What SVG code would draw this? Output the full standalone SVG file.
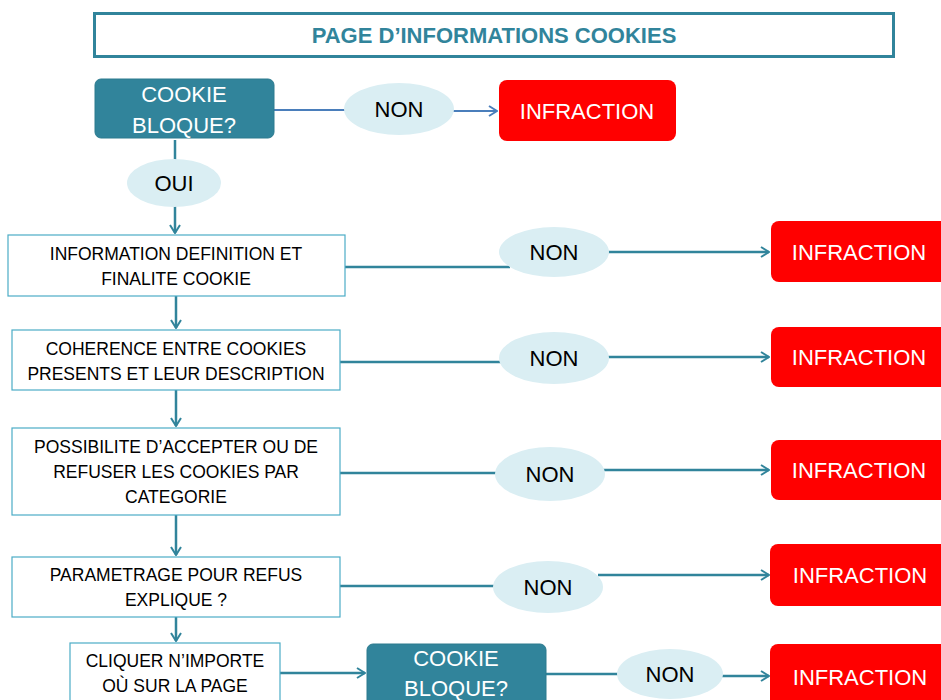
<svg xmlns="http://www.w3.org/2000/svg" width="941" height="700" viewBox="0 0 941 700">
<style>
text{font-family:"Liberation Sans",Arial,sans-serif;text-anchor:middle}
.t{fill:#31849B;font-weight:bold;font-size:22px}
.w{fill:#fff;font-size:22px}
.b{fill:#000;font-size:22px}
.s{fill:#000;font-size:17.5px}
.teal{fill:#31849B;stroke:#2C7A8E;stroke-width:1}
.red{fill:#FF0000}
.ell{fill:#DAEEF3}
.box{fill:#fff;stroke:#4BACC6;stroke-width:1.2}
.c{fill:none;stroke:#31849B;stroke-width:2.5}
.cb{fill:none;stroke:#4A7EBB;stroke-width:2}
</style>
<defs>
<marker id="ar" viewBox="0 0 12 12" refX="11" refY="6" markerWidth="12" markerHeight="12" markerUnits="userSpaceOnUse" orient="auto">
<polyline points="3,1 11,6 3,11" fill="none" stroke="#31849B" stroke-width="2"/>
</marker>
<marker id="arb" viewBox="0 0 12 12" refX="11" refY="6" markerWidth="12" markerHeight="12" markerUnits="userSpaceOnUse" orient="auto">
<polyline points="3,1 11,6 3,11" fill="none" stroke="#4A7EBB" stroke-width="2"/>
</marker>
</defs>
<rect width="941" height="700" fill="#fff"/>
<g id="connectors">
<path class="cb" d="M240,110 H350"/>
<path class="cb" d="M450,111 H497" marker-end="url(#arb)"/>
<path class="c" d="M175,140 V165"/>
<path class="c" d="M175,200 V233" marker-end="url(#ar)"/>
<path class="c" d="M345,267 H510"/>
<path class="c" d="M605,252 H769" marker-end="url(#ar)"/>
<path class="c" d="M176,296 V328" marker-end="url(#ar)"/>
<path class="c" d="M340,362 H505"/>
<path class="c" d="M605,357 H769" marker-end="url(#ar)"/>
<path class="c" d="M176,390 V426" marker-end="url(#ar)"/>
<path class="c" d="M340,473 H500"/>
<path class="c" d="M600,470 H769" marker-end="url(#ar)"/>
<path class="c" d="M176,515 V555" marker-end="url(#ar)"/>
<path class="c" d="M340,586 H500"/>
<path class="c" d="M598,575 H769" marker-end="url(#ar)"/>
<path class="c" d="M176,617 V641" marker-end="url(#ar)"/>
<path class="c" d="M280,673 H365" marker-end="url(#ar)"/>
<path class="c" d="M546,674 H622"/>
<path class="c" d="M718,676 H769" marker-end="url(#ar)"/>
</g>
<g id="title">
<rect x="94.5" y="13.5" width="799" height="43" fill="#fff" stroke="#31849B" stroke-width="3"/>
<text class="t" x="494" y="43">PAGE D’INFORMATIONS COOKIES</text>
</g>
<g id="cookie1">
<rect class="teal" x="95" y="79" width="179" height="59" rx="6"/>
<text class="w" x="184" y="102">COOKIE</text>
<text class="w" x="184" y="133">BLOQUE?</text>
</g>
<g id="non1"><ellipse class="ell" cx="399" cy="109" rx="55" ry="26"/><text class="b" x="399" y="117">NON</text></g>
<g id="inf1"><rect class="red" x="499" y="80" width="177" height="61" rx="8"/><text class="w" x="587" y="119">INFRACTION</text></g>
<g id="oui"><ellipse class="ell" cx="174" cy="183" rx="47" ry="24"/><text class="b" x="174" y="191">OUI</text></g>
<g id="info">
<rect class="box" x="8" y="235" width="337" height="61"/>
<text class="s" x="176" y="260">INFORMATION DEFINITION ET</text>
<text class="s" x="176" y="285">FINALITE COOKIE</text>
</g>
<g id="non2"><ellipse class="ell" cx="554" cy="252" rx="55" ry="25"/><text class="b" x="554" y="260">NON</text></g>
<g id="inf2"><rect class="red" x="771" y="221" width="180" height="61" rx="8"/><text class="w" x="859" y="260">INFRACTION</text></g>
<g id="coherence">
<rect class="box" x="12" y="330" width="328" height="60"/>
<text class="s" x="176" y="355">COHERENCE ENTRE COOKIES</text>
<text class="s" x="176" y="380">PRESENTS ET LEUR DESCRIPTION</text>
</g>
<g id="non3"><ellipse class="ell" cx="554" cy="358" rx="55" ry="26"/><text class="b" x="554" y="366">NON</text></g>
<g id="inf3"><rect class="red" x="771" y="327" width="180" height="60" rx="8"/><text class="w" x="859" y="365">INFRACTION</text></g>
<g id="possibilite">
<rect class="box" x="12" y="428" width="328" height="87"/>
<text class="s" x="176" y="453">POSSIBILITE D’ACCEPTER OU DE</text>
<text class="s" x="176" y="478">REFUSER LES COOKIES PAR</text>
<text class="s" x="176" y="503">CATEGORIE</text>
</g>
<g id="non4"><ellipse class="ell" cx="550" cy="474" rx="55" ry="27"/><text class="b" x="550" y="482">NON</text></g>
<g id="inf4"><rect class="red" x="771" y="440" width="180" height="60" rx="8"/><text class="w" x="859" y="478">INFRACTION</text></g>
<g id="parametrage">
<rect class="box" x="12" y="557" width="328" height="60"/>
<text class="s" x="176" y="581">PARAMETRAGE POUR REFUS</text>
<text class="s" x="176" y="606">EXPLIQUE ?</text>
</g>
<g id="non5"><ellipse class="ell" cx="548" cy="587" rx="55" ry="26"/><text class="b" x="548" y="595">NON</text></g>
<g id="inf5"><rect class="red" x="770" y="544" width="181" height="62" rx="8"/><text class="w" x="860" y="583">INFRACTION</text></g>
<g id="cliquer">
<rect class="box" x="70" y="643" width="210" height="70"/>
<text class="s" x="175" y="667">CLIQUER N’IMPORTE</text>
<text class="s" x="175" y="692">OÙ SUR LA PAGE</text>
</g>
<g id="cookie2">
<rect class="teal" x="367" y="644" width="179" height="70" rx="6"/>
<text class="w" x="456" y="666">COOKIE</text>
<text class="w" x="456" y="696">BLOQUE?</text>
</g>
<g id="non6"><ellipse class="ell" cx="670" cy="674" rx="53" ry="25"/><text class="b" x="670" y="682">NON</text></g>
<g id="inf6"><rect class="red" x="770" y="644" width="181" height="70" rx="8"/><text class="w" x="860" y="685">INFRACTION</text></g>
</svg>
